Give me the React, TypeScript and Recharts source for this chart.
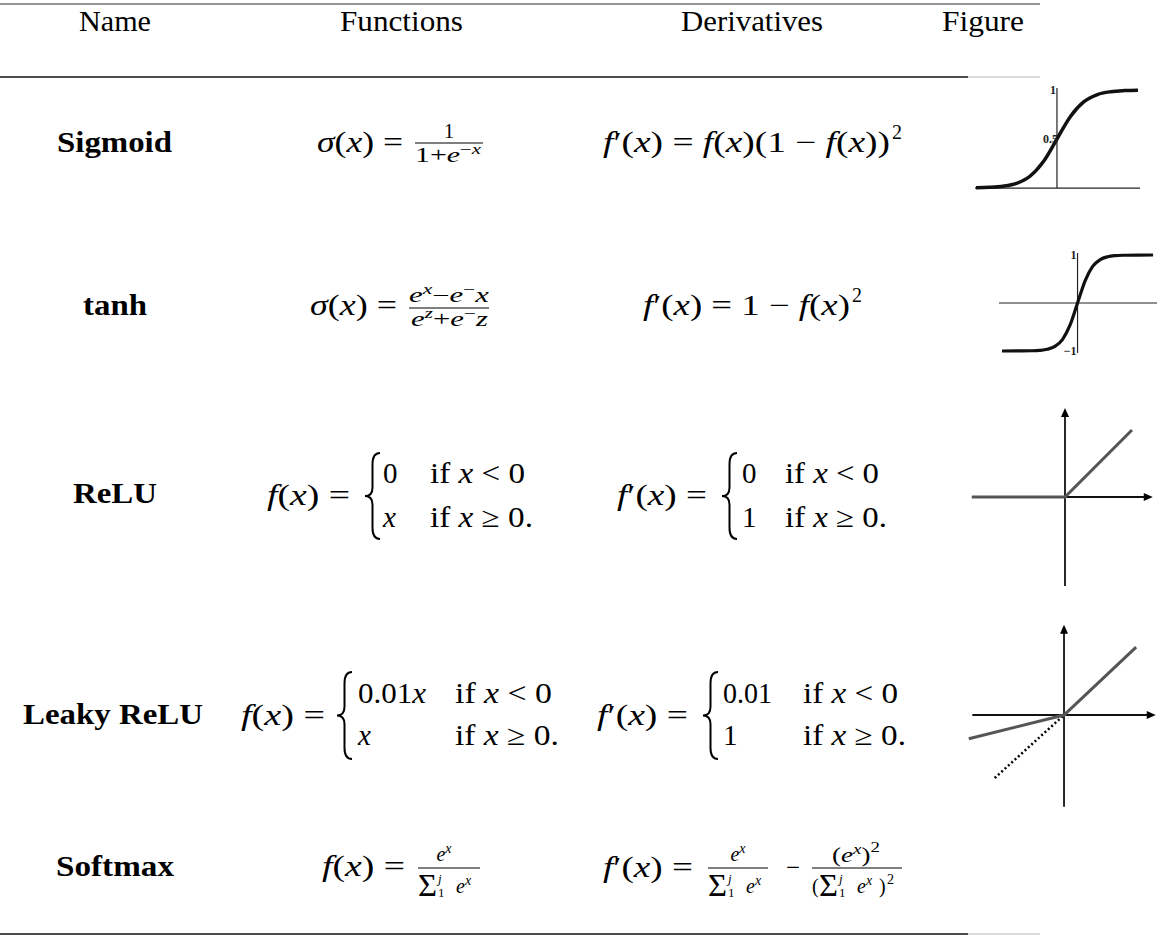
import { ComposedChart, Line, XAxis, YAxis, ReferenceLine, ReferenceDot } from 'recharts'

const headers = ['Name', 'Functions', 'Derivatives', 'Figure']
const names = ['Sigmoid', 'tanh', 'ReLU', 'Leaky ReLU', 'Softmax']

// sigmoid thumbnail, values
const sigmoidX = [-6, -5, -4, -3, -2, -1, 0, 1, 2, 3, 4, 5, 6]
const sigmoidY = [0.003, 0.007, 0.018, 0.047, 0.12, 0.27, 0.5, 0.73, 0.88, 0.953, 0.982, 0.993, 0.997]
const sigmoidTicks = [1, 0.5]
const sigmoidTickLabels = ['1', '0.5']

// tanh thumbnail
const tanhX = [-5, -4, -3, -2.5, -2, -1.5, -1, -0.5, 0, 0.5, 1, 1.5, 2, 2.5, 3, 4, 5]
const tanhY = [-1, -0.999, -0.995, -0.987, -0.964, -0.905, -0.762, -0.462, 0, 0.462, 0.762, 0.905, 0.964, 0.987, 0.995, 0.999, 1]
const tanhTicks = [1, -1]
const tanhTickLabels = ['1', '\u22121']

// relu thumbnail
const reluX = [-1.39, 0, 1]
const reluY = [0, 0, 1]

// leaky relu thumbnail: solid line plus dotted y=x guide on the left
const leakyX = [-1.36, 0, 1.03]
const leakyY = [-0.34, 0, 0.97]
const leakyGuideX = [-0.99, 0]
const leakyGuideY = [-0.9, 0]

const pts = (xs: number[], ys: number[]) => xs.map((x, i) => ({ x, y: ys[i] }))

const FONT = "'Liberation Serif', 'Times New Roman', serif"

function ArrowRight(p: any) {
  const { cx, cy } = p
  return <path d={`M${cx},${cy} L${cx - 9},${cy - 4} L${cx - 9},${cy + 4} Z`} fill="#000" />
}
function ArrowUp(p: any) {
  const { cx, cy } = p
  return <path d={`M${cx},${cy} L${cx - 4},${cy + 9} L${cx + 4},${cy + 9} Z`} fill="#000" />
}
const tickShape = (label: string, dx: number) => (p: any) => (
  <text x={p.cx + dx} y={p.cy + 4} textAnchor="end" fontSize={12} fontWeight="bold" fontFamily={FONT} fill="#222">
    {label}
  </text>
)

function Brace({ x, top, bot, w }: { x: number; top: number; bot: number; w: number }) {
  const mid = (top + bot) / 2
  const h = bot - top
  const m = x + w / 2
  const d = `M${x + w},${top} Q${m},${top} ${m},${top + h * 0.13} L${m},${mid - h * 0.1} Q${m},${mid} ${x},${mid} Q${m},${mid} ${m},${mid + h * 0.1} L${m},${bot - h * 0.13} Q${m},${bot} ${x + w},${bot}`
  return <path d={d} fill="none" stroke="#000" strokeWidth={2} />
}

const I = ({ children }: { children: any }) => <tspan fontStyle="italic">{children}</tspan>

function SumDen({ x, y }: { x: number; y: number }) {
  return (
    <g>
      <text x={x} y={y + 3} fontSize={31} textLength={19} lengthAdjust="spacingAndGlyphs">Σ</text>
      <text x={x + 20} y={y - 10} fontSize={13} fontStyle="italic">j</text>
      <text x={x + 20} y={y + 4} fontSize={13}>1</text>
      <text x={x + 38} y={y} fontSize={20} fontStyle="italic">e</text>
      <text x={x + 47} y={y - 8} fontSize={14} fontStyle="italic">x</text>
    </g>
  )
}

function Ex({ x, y, anchor = 'start' }: { x: number; y: number; anchor?: string }) {
  return (
    <text x={x} y={y} fontSize={20} textAnchor={anchor as any}>
      <I>e</I>
      <tspan fontSize={14} dy={-8} fontStyle="italic">x</tspan>
    </text>
  )
}

function Table() {
  const S = 29
  return (
    <svg width={1173} height={936} style={{ position: 'absolute', left: 0, top: 0 }} fontFamily={FONT} fill="#000">
      <line x1={0} x2={1040} y1={4} y2={4} stroke="#707070" strokeWidth={1.6} />
      <line x1={0} x2={968} y1={77} y2={77} stroke="#111" strokeWidth={1.4} />
      <line x1={968} x2={1040} y1={77} y2={77} stroke="#cfcfcf" strokeWidth={1.4} />
      <line x1={0} x2={968} y1={934} y2={934} stroke="#111" strokeWidth={1.6} />
      <line x1={968} x2={1040} y1={934} y2={934} stroke="#cfcfcf" strokeWidth={1.6} />

      {/* header */}
      <text x={79} y={31} fontSize={S} textLength={72} lengthAdjust="spacingAndGlyphs">{headers[0]}</text>
      <text x={340} y={31} fontSize={S} textLength={123} lengthAdjust="spacingAndGlyphs">{headers[1]}</text>
      <text x={681} y={31} fontSize={S} textLength={142} lengthAdjust="spacingAndGlyphs">{headers[2]}</text>
      <text x={942} y={31} fontSize={S} textLength={82} lengthAdjust="spacingAndGlyphs">{headers[3]}</text>

      {/* names */}
      <text x={57} y={152} fontSize={S} fontWeight="bold" textLength={115} lengthAdjust="spacingAndGlyphs">{names[0]}</text>
      <text x={83} y={315} fontSize={S} fontWeight="bold" textLength={64} lengthAdjust="spacingAndGlyphs">{names[1]}</text>
      <text x={73} y={503} fontSize={S} fontWeight="bold" textLength={84} lengthAdjust="spacingAndGlyphs">{names[2]}</text>
      <text x={23} y={724} fontSize={S} fontWeight="bold" textLength={180} lengthAdjust="spacingAndGlyphs">{names[3]}</text>
      <text x={56} y={876} fontSize={S} fontWeight="bold" textLength={118} lengthAdjust="spacingAndGlyphs">{names[4]}</text>

      {/* sigmoid */}
      <text x={317} y={152} fontSize={S} textLength={86} lengthAdjust="spacingAndGlyphs">
        <I>σ</I>(<I>x</I>) =
      </text>
      <line x1={415} x2={483} y1={143} y2={143} stroke="#000" strokeWidth={1.2} />
      <text x={449} y={138} fontSize={20} textAnchor="middle">1</text>
      <text x={415} y={162} fontSize={20} textLength={66} lengthAdjust="spacingAndGlyphs">
        1+<I>e</I><tspan fontSize={14} dy={-8}>−</tspan><tspan fontSize={14} fontStyle="italic">x</tspan>
      </text>
      <text x={603} y={152} fontSize={S} textLength={287} lengthAdjust="spacingAndGlyphs">
        <I>f</I>′(<I>x</I>) = <I>f</I>(<I>x</I>)(1 − <I>f</I>(<I>x</I>))
      </text>
      <text x={892} y={139} fontSize={20}>2</text>

      {/* tanh */}
      <text x={310} y={315} fontSize={S} textLength={87} lengthAdjust="spacingAndGlyphs">
        <I>σ</I>(<I>x</I>) =
      </text>
      <line x1={409} x2={489} y1={308} y2={308} stroke="#000" strokeWidth={1.2} />
      <text x={409} y={302} fontSize={20} textLength={80} lengthAdjust="spacingAndGlyphs">
        <I>e</I><tspan fontSize={14} dy={-8} fontStyle="italic">x</tspan><tspan dy={8}>−</tspan><I>e</I>
        <tspan fontSize={14} dy={-8}>−</tspan><tspan dy={8} fontStyle="italic">x</tspan>
      </text>
      <text x={411} y={326} fontSize={20} textLength={77} lengthAdjust="spacingAndGlyphs">
        <I>e</I><tspan fontSize={14} dy={-8} fontStyle="italic">z</tspan><tspan dy={8}>+</tspan><I>e</I>
        <tspan fontSize={14} dy={-8}>−</tspan><tspan dy={8} fontStyle="italic">z</tspan>
      </text>
      <text x={643} y={315} fontSize={S} textLength={207} lengthAdjust="spacingAndGlyphs">
        <I>f</I>′(<I>x</I>) = 1 − <I>f</I>(<I>x</I>)
      </text>
      <text x={852} y={302} fontSize={20}>2</text>

      {/* relu */}
      <text x={267} y={505} fontSize={S} textLength={83} lengthAdjust="spacingAndGlyphs">
        <I>f</I>(<I>x</I>) =
      </text>
      <Brace x={365} top={453} bot={539} w={15} />
      <text x={383} y={483} fontSize={S}>0</text>
      <text x={383} y={527} fontSize={S} fontStyle="italic">x</text>
      <text x={430} y={483} fontSize={S} textLength={95} lengthAdjust="spacingAndGlyphs">if <I>x</I> {'<'} 0</text>
      <text x={430} y={527} fontSize={S} textLength={103} lengthAdjust="spacingAndGlyphs">if <I>x</I> ≥ 0.</text>
      <text x={617} y={505} fontSize={S} textLength={90} lengthAdjust="spacingAndGlyphs">
        <I>f</I>′(<I>x</I>) =
      </text>
      <Brace x={722} top={453} bot={539} w={15} />
      <text x={742} y={483} fontSize={S}>0</text>
      <text x={742} y={527} fontSize={S}>1</text>
      <text x={785} y={483} fontSize={S} textLength={94} lengthAdjust="spacingAndGlyphs">if <I>x</I> {'<'} 0</text>
      <text x={785} y={527} fontSize={S} textLength={102} lengthAdjust="spacingAndGlyphs">if <I>x</I> ≥ 0.</text>

      {/* leaky relu */}
      <text x={241} y={725} fontSize={S} textLength={84} lengthAdjust="spacingAndGlyphs">
        <I>f</I>(<I>x</I>) =
      </text>
      <Brace x={337} top={672} bot={759} w={15} />
      <text x={358} y={703} fontSize={S} textLength={68} lengthAdjust="spacingAndGlyphs">0.01<I>x</I></text>
      <text x={358} y={745} fontSize={S} fontStyle="italic">x</text>
      <text x={455} y={703} fontSize={S} textLength={97} lengthAdjust="spacingAndGlyphs">if <I>x</I> {'<'} 0</text>
      <text x={455} y={745} fontSize={S} textLength={104} lengthAdjust="spacingAndGlyphs">if <I>x</I> ≥ 0.</text>
      <text x={597} y={725} fontSize={S} textLength={91} lengthAdjust="spacingAndGlyphs">
        <I>f</I>′(<I>x</I>) =
      </text>
      <Brace x={703} top={672} bot={759} w={15} />
      <text x={723} y={703} fontSize={S} textLength={49} lengthAdjust="spacingAndGlyphs">0.01</text>
      <text x={723} y={745} fontSize={S}>1</text>
      <text x={803} y={703} fontSize={S} textLength={95} lengthAdjust="spacingAndGlyphs">if <I>x</I> {'<'} 0</text>
      <text x={803} y={745} fontSize={S} textLength={103} lengthAdjust="spacingAndGlyphs">if <I>x</I> ≥ 0.</text>

      {/* softmax */}
      <text x={322} y={876} fontSize={S} textLength={83} lengthAdjust="spacingAndGlyphs">
        <I>f</I>(<I>x</I>) =
      </text>
      <line x1={418} x2={480} y1={868} y2={868} stroke="#000" strokeWidth={1.2} />
      <Ex x={444} y={861} anchor="middle" />
      <SumDen x={418} y={893} />
      <text x={603} y={877} fontSize={S} textLength={90} lengthAdjust="spacingAndGlyphs">
        <I>f</I>′(<I>x</I>) =
      </text>
      <line x1={708} x2={768} y1={868} y2={868} stroke="#000" strokeWidth={1.2} />
      <Ex x={738} y={861} anchor="middle" />
      <SumDen x={708} y={893} />
      <text x={786} y={877} fontSize={S} textLength={14} lengthAdjust="spacingAndGlyphs">−</text>
      <line x1={812} x2={902} y1={868} y2={868} stroke="#000" strokeWidth={1.2} />
      <text x={832} y={862} fontSize={20} textLength={48} lengthAdjust="spacingAndGlyphs">
        (<I>e</I><tspan fontSize={14} dy={-8} fontStyle="italic">x</tspan><tspan dy={8}>)</tspan>
        <tspan fontSize={14} dy={-10}>2</tspan>
      </text>
      <text x={812} y={893} fontSize={20}>(</text>
      <SumDen x={819} y={893} />
      <text x={879} y={893} fontSize={20}>)</text>
      <text x={887} y={884} fontSize={14}>2</text>
    </svg>
  )
}

const noMargin = { top: 0, right: 0, bottom: 0, left: 0 }
// room above and below the plot so the small bold tick labels are not clipped
const padMargin = { top: 12, right: 0, bottom: 12, left: 0 }

function SigmoidFig() {
  return (
    <div style={{ position: 'absolute', left: 975, top: 74 }}>
      <ComposedChart width={165} height={128} margin={padMargin}>
        <XAxis type="number" dataKey="x" domain={[-6.07, 6.15]} hide allowDataOverflow />
        <YAxis type="number" domain={[-0.02, 1.04]} hide allowDataOverflow />
        <ReferenceLine segment={[{ x: -6.07, y: 0 }, { x: 6.15, y: 0 }]} stroke="#222" strokeWidth={1.2} ifOverflow="visible" />
        <ReferenceLine segment={[{ x: 0, y: 0 }, { x: 0, y: 1.02 }]} stroke="#222" strokeWidth={1.2} ifOverflow="visible" />
        <Line data={pts(sigmoidX, sigmoidY)} dataKey="y" type="monotone" stroke="#111" strokeWidth={3.5} dot={false} isAnimationActive={false} />
        {sigmoidTicks.map((t, i) => (
          <ReferenceDot key={t} x={0} y={t} r={2} ifOverflow="visible" shape={tickShape(sigmoidTickLabels[i], i === 0 ? -1 : 1)} />
        ))}
      </ComposedChart>
    </div>
  )
}

function TanhFig() {
  return (
    <div style={{ position: 'absolute', left: 999, top: 239 }}>
      <ComposedChart width={158} height={128} margin={padMargin}>
        <XAxis type="number" dataKey="x" domain={[-5.2, 5.26]} hide allowDataOverflow />
        <YAxis type="number" domain={[-1.083, 1.083]} hide allowDataOverflow />
        <ReferenceLine segment={[{ x: -5.2, y: 0 }, { x: 5.26, y: 0 }]} stroke="#222" strokeWidth={1.2} ifOverflow="visible" />
        <ReferenceLine segment={[{ x: 0, y: -1.04 }, { x: 0, y: 1.04 }]} stroke="#222" strokeWidth={1.2} ifOverflow="visible" />
        <Line data={pts(tanhX, tanhY)} dataKey="y" type="monotone" stroke="#111" strokeWidth={3.2} dot={false} isAnimationActive={false} />
        {tanhTicks.map((t, i) => (
          <ReferenceDot key={t} x={0} y={t} r={2} ifOverflow="visible" shape={tickShape(tanhTickLabels[i], -1)} />
        ))}
      </ComposedChart>
    </div>
  )
}

function ReluFig() {
  return (
    <div style={{ position: 'absolute', left: 970, top: 404 }}>
      <ComposedChart width={190} height={186} margin={noMargin}>
        <XAxis type="number" dataKey="x" domain={[-1.418, 1.418]} hide allowDataOverflow />
        <YAxis type="number" domain={[-1.388, 1.388]} hide allowDataOverflow />
        <ReferenceLine segment={[{ x: -1.39, y: 0 }, { x: 1.25, y: 0 }]} stroke="#111" strokeWidth={1.8} ifOverflow="visible" />
        <ReferenceLine segment={[{ x: 0, y: -1.33 }, { x: 0, y: 1.25 }]} stroke="#111" strokeWidth={1.8} ifOverflow="visible" />
        <ReferenceDot x={1.31} y={0} r={4} ifOverflow="visible" shape={ArrowRight} />
        <ReferenceDot x={0} y={1.33} r={4} ifOverflow="visible" shape={ArrowUp} />
        <Line data={pts(reluX, reluY)} dataKey="y" type="linear" stroke="#555" strokeWidth={3} dot={false} isAnimationActive={false} />
      </ComposedChart>
    </div>
  )
}

function LeakyFig() {
  return (
    <div style={{ position: 'absolute', left: 966, top: 622 }}>
      <ComposedChart width={194} height={188} margin={noMargin}>
        <XAxis type="number" dataKey="x" domain={[-1.4, 1.371]} hide allowDataOverflow />
        <YAxis type="number" domain={[-1.357, 1.329]} hide allowDataOverflow />
        <ReferenceLine segment={[{ x: -1.31, y: 0 }, { x: 1.25, y: 0 }]} stroke="#111" strokeWidth={1.8} ifOverflow="visible" />
        <ReferenceLine segment={[{ x: 0, y: -1.31 }, { x: 0, y: 1.22 }]} stroke="#111" strokeWidth={1.8} ifOverflow="visible" />
        <ReferenceDot x={1.31} y={0} r={4} ifOverflow="visible" shape={ArrowRight} />
        <ReferenceDot x={0} y={1.29} r={4} ifOverflow="visible" shape={ArrowUp} />
        <Line data={pts(leakyGuideX, leakyGuideY)} dataKey="y" type="linear" stroke="#000" strokeWidth={2.5} strokeDasharray="2 2.5" dot={false} isAnimationActive={false} />
        <Line data={pts(leakyX, leakyY)} dataKey="y" type="linear" stroke="#555" strokeWidth={3} dot={false} isAnimationActive={false} />
      </ComposedChart>
    </div>
  )
}

export default function App() {
  return (
    <div style={{ position: 'absolute', left: 0, top: 0, width: 1173, height: 936, background: '#fff' }}>
      <Table />
      <SigmoidFig />
      <TanhFig />
      <ReluFig />
      <LeakyFig />
    </div>
  )
}
